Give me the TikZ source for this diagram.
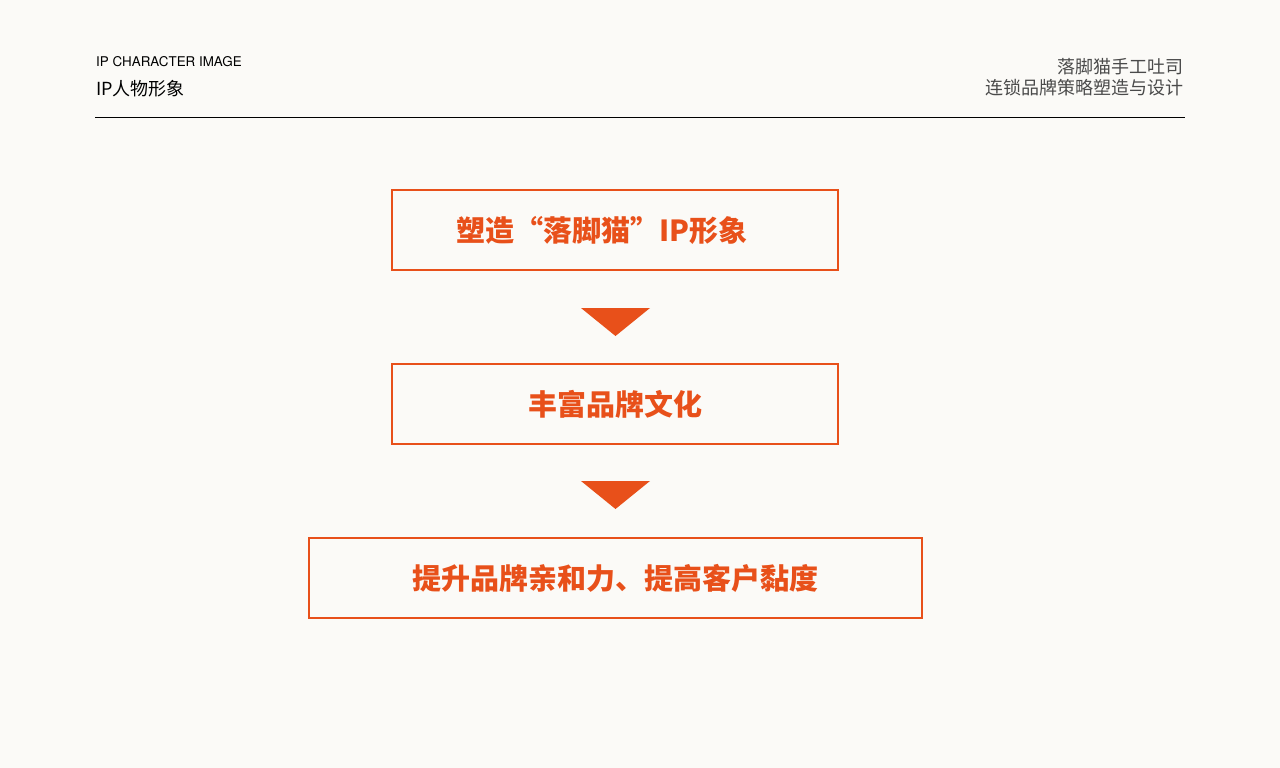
\documentclass[tikz,border=0pt]{standalone}
\usepackage{fontspec}
\setmainfont{Noto Sans CJK SC}
\newfontfamily\headfont{TeX Gyre Heros}
\definecolor{bgpaper}{HTML}{FBFAF7}
\definecolor{catorange}{HTML}{E8501A}
\definecolor{headgray}{HTML}{4A4A4A}

\begin{document}
\begin{tikzpicture}[x=1pt, y=-1pt,
    stepbox/.style={draw=catorange, line width=1.6pt, minimum width=446pt, minimum height=80pt,
      inner sep=0pt, text=catorange, font=\fontsize{29}{29}\selectfont\bfseries},
    headtext/.style={inner sep=0pt, text=headgray, font=\fontsize{18}{18}\selectfont}]
    \useasboundingbox (0,0) rectangle (1280,768);
    \fill[bgpaper] (0,0) rectangle (1280,768);

    % header
    \node[anchor=west, inner sep=0pt, font=\headfont\fontsize{13.4}{13.4}\selectfont] (entitle) at (96,62) {IP CHARACTER IMAGE};
    \node[anchor=west, inner sep=0pt, font=\fontsize{18}{18}\selectfont] (cntitle) at (96,89) {IP人物形象};
    \node[headtext, anchor=east] (brand) at (1184,67) {落脚猫手工吐司};
    \node[headtext, anchor=east] (subject) at (1184,88) {连锁品牌策略塑造与设计};
    \draw[line width=1.5pt] (95,117.5) -- (1185,117.5);

    % steps
    \node[stepbox] (shape) at (615,230) {塑造“落脚猫”IP形象\kern26pt};
    \node[stepbox] (culture) at (615,404) {丰富品牌文化};
    \node[stepbox, minimum width=613pt] (loyalty) at (615.5,578) {提升品牌亲和力、提高客户黏度};

    \foreach \y in {308,481}
    \fill[catorange] (581,\y) -- (650,\y) -- (615.5,\y+28) -- cycle;

\end{tikzpicture}
\end{document}
